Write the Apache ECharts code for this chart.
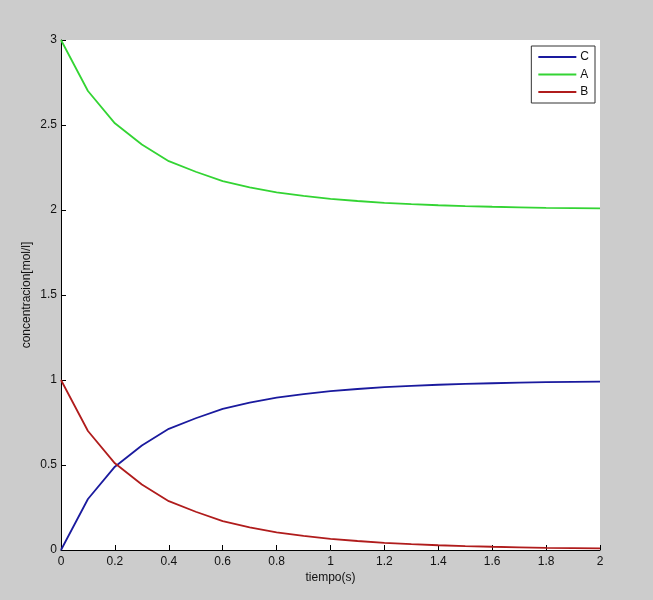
<!DOCTYPE html>
<html>
<head>
<meta charset="utf-8">
<script src="https://cdn.jsdelivr.net/npm/echarts@6/dist/echarts.min.js"></script>
<style>
  html, body { margin: 0; padding: 0; background: #cccccc; }
  #chart { width: 653px; height: 600px; }
</style>
</head>
<body>
<div id="chart"></div>
<script>
// tiempo (s), sampled every 0.1 s
var tiempo = [0, 0.1, 0.2, 0.3, 0.4, 0.5, 0.6, 0.7, 0.8, 0.9, 1.0,
              1.1, 1.2, 1.3, 1.4, 1.5, 1.6, 1.7, 1.8, 1.9, 2.0];

// concentraciones
var concC = [0, 0.30, 0.49, 0.615, 0.713, 0.775, 0.83, 0.867, 0.896, 0.917, 0.934,
             0.947, 0.958, 0.966, 0.972, 0.977, 0.981, 0.984, 0.987, 0.989, 0.991];
var concA = [3, 2.70, 2.51, 2.385, 2.287, 2.225, 2.17, 2.133, 2.104, 2.083, 2.066,
             2.053, 2.042, 2.034, 2.028, 2.023, 2.019, 2.016, 2.013, 2.011, 2.009];
var concB = [1, 0.70, 0.51, 0.385, 0.287, 0.225, 0.17, 0.133, 0.104, 0.083, 0.066,
             0.053, 0.042, 0.034, 0.028, 0.023, 0.019, 0.016, 0.013, 0.011, 0.009];

var names = ['C', 'A', 'B'];
var colors = ['#1a1a9e', '#33d433', '#b01c1c'];

function pairs(values) {
	return tiempo.map(function (t, i) { return [t, values[i]]; });
}

var font = 'Liberation Sans, Arial, sans-serif';

function axis(min, max, interval, name, gap, margin) {
	return {
		type: 'value',
		min: min,
		max: max,
		interval: interval,
		name: name,
		nameLocation: 'middle',
		nameGap: gap,
		nameMoveOverlap: false,
		nameTextStyle: { color: '#111', fontSize: 12, fontFamily: font },
		axisLine: { show: true, lineStyle: { color: '#000', width: 1 } },
		axisTick: { show: true, inside: true, length: 5, lineStyle: { color: '#000' } },
		axisLabel: { color: '#111', fontSize: 12, fontFamily: font, margin: margin },
		splitLine: { show: false }
	};
}

var series = [concC, concA, concB].map(function (vals, i) {
	return {
		name: names[i],
		type: 'line',
		data: pairs(vals),
		showSymbol: false,
		symbol: 'none',
		animation: false,
		lineStyle: { color: colors[i], width: 1.8 },
		itemStyle: { color: colors[i] }
	};
});

var chart = echarts.init(document.getElementById('chart'));
chart.setOption({
	backgroundColor: '#cccccc',
	animation: false,
	grid: {
		left: 61, right: 53, top: 40, bottom: 50,
		show: true, backgroundColor: '#ffffff', borderWidth: 0
	},
	xAxis: axis(0, 2, 0.2, 'tiempo(s)', 22, 6),
	yAxis: axis(0, 3, 0.5, 'concentracion[mol/l]', 28, 4),
	legend: {
		data: names,
		orient: 'vertical',
		right: 58,
		top: 46,
		backgroundColor: '#ffffff',
		borderColor: '#333',
		borderWidth: 1,
		padding: [5, 6, 5, 7],
		itemWidth: 38,
		itemHeight: 2,
		itemGap: 5.5,
		icon: 'rect',
		textStyle: { color: '#111', fontSize: 12, fontFamily: font, padding: [0, 0, 0, -1] }
	},
	series: series
});
</script>
</body>
</html>
